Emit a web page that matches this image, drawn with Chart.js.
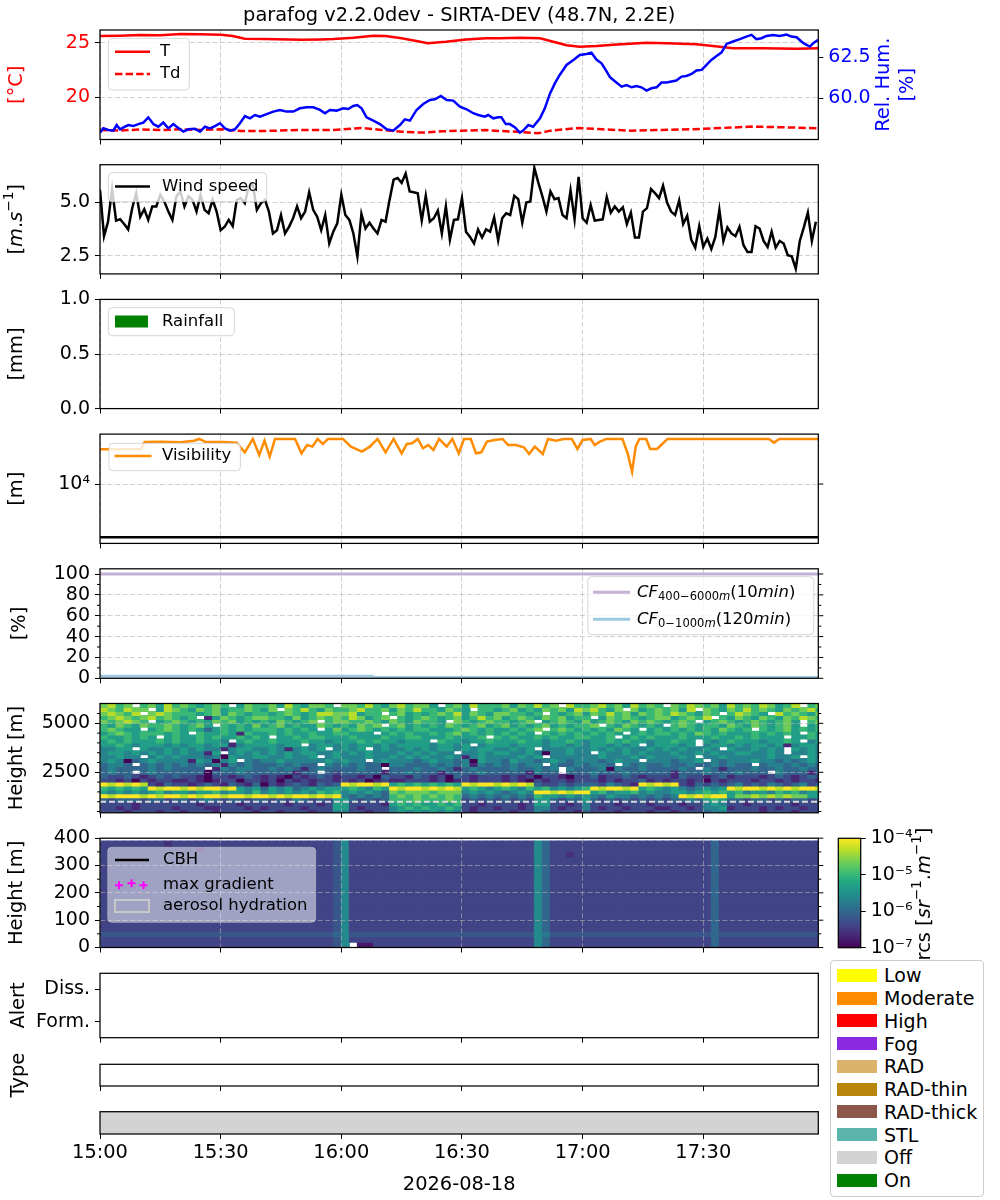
<!DOCTYPE html>
<html>
<head>
<meta charset="utf-8">
<title>parafog</title>
<script src="https://cdn.jsdelivr.net/npm/chart.js@4.4.1/dist/chart.umd.min.js"></script>
<style>
  html, body { margin: 0; padding: 0; background: #fff; }
  body { position: relative; width: 1000px; height: 1200px; overflow: hidden; font-family: "DejaVu Sans", sans-serif; }
  canvas { position: absolute; }
  #stateLegend {
    position: absolute; left: 830px; top: 960px; width: 154px; height: 237px;
    box-sizing: border-box; border: 1px solid #ccc; border-radius: 4px; background: #fff; z-index: 5;
  }
  #stateLegend .item { position: absolute; left: 0; height: 22px; display: flex; align-items: center; }
  #stateLegend .sw { display: inline-block; margin-left: 6px; width: 40px; height: 13px; }
  #stateLegend .lb { margin-left: 7px; font-size: 19px; line-height: 22px; color: #000; }
</style>
</head>
<body>
<div id="stateLegend"></div>
<script>
const FONT = '"DejaVu Sans", sans-serif';
const GRID = 'rgba(176,176,176,0.6)';
const GRID_DASH = [5, 2.5];
const AX_LEFT = 100;
const AX_RIGHT = 818.3;
const PAGE_W = 1000;

// ---------------- data ----------------
const figTitle = 'parafog v2.2.0dev - SIRTA-DEV (48.7N, 2.2E)';
const dateLabel = '2026-08-18';
const xEnd = 178.6; // minutes after 15:00
const timeTicks = [0, 30, 60, 90, 120, 150];
const timeTickLabels = ['15:00', '15:30', '16:00', '16:30', '17:00', '17:30'];

// temperature / dew point [°C]
const tempMinutes = [0, 5, 10, 15, 20, 25, 30, 33, 36, 41, 50, 55, 58, 63, 68, 71, 75, 80, 81.5, 86,
  91, 96, 99.4, 104.4, 109.4, 112.7, 116, 119.3, 123.5, 127.6, 135.9, 140.9, 148.3, 154.1, 157.4, 164.9, 173.2, 178.6];
const temperature = [25.61, 25.64, 25.70, 25.67, 25.79, 25.76, 25.73, 25.61, 25.37, 25.34, 25.27, 25.30, 25.34, 25.46, 25.64, 25.61, 25.40, 25.06, 24.94, 25.09,
  25.30, 25.40, 25.40, 25.46, 25.40, 25.09, 24.76, 24.63, 24.70, 24.82, 25.00, 24.94, 24.85, 24.63, 24.48, 24.48, 24.45, 24.48];
const dewMinutes = [0, 5, 10, 15, 20, 25, 30, 35, 41, 50, 58, 63, 65, 70, 75, 80, 85, 90, 96, 99.4,
  104.4, 109, 112, 119, 125, 132, 138, 147, 155, 162, 170, 178.6];
const dewPoint = [17.01, 16.95, 17.07, 17.01, 17.07, 17.01, 17.07, 16.92, 16.92, 17.01, 17.01, 17.13, 17.2, 17.01, 16.86, 16.77, 16.89, 16.95, 17.01, 16.92,
  16.83, 16.71, 16.95, 17.2, 17.07, 16.95, 17.01, 17.07, 17.2, 17.32, 17.26, 17.16];

// relative humidity [%]
const rhMinutes = [0.0, 0.83, 2.07, 3.31, 4.14, 4.97, 6.21, 7.04, 8.29, 9.53, 10.77, 12.01, 13.26, 14.5, 15.74, 16.99, 18.23, 19.06, 20.71, 21.96,
  23.61, 24.86, 26.1, 27.34, 28.59, 29.83, 31.07, 32.31, 33.56, 34.8, 36.04, 37.29, 38.53, 39.77, 41.43, 43.09, 44.74, 46.4, 48.06, 49.71,
  51.37, 53.03, 54.69, 55.93, 57.17, 58.83, 60.49, 61.73, 62.97, 63.97, 65.04, 66.28, 67.94, 69.6, 71.26, 72.91, 74.57, 75.81, 77.06, 78.71,
  80.37, 82.03, 83.27, 84.76, 86.18, 87.83, 89.49, 91.15, 92.8, 94.05,
  95.7, 96.5, 97.8, 99.0, 99.8, 100.9, 101.9, 103.2, 104.4, 105.2, 106.5, 107.7, 109.4, 110.6, 111.9, 113.1, 114.3, 116.0, 117.7, 119.3,
  121.0, 122.2, 123.5, 124.7, 126.0, 126.8, 128.4, 129.7, 130.9, 132.2, 133.4, 134.6, 135.9, 137.1, 138.4, 139.6, 140.9, 142.1, 143.3, 144.6,
  145.8, 147.1, 148.3, 149.6, 150.8, 152.0, 153.3, 154.5, 155.8, 157.4, 159.1, 160.7, 162.0, 163.2, 164.5, 165.7, 167.4, 169.0, 170.7, 171.9,
  173.2, 174.4, 175.2, 176.5, 177.3, 178.6];
const relHumidity = [57.91, 58.17, 58.07, 58.03, 58.37, 58.11, 58.27, 58.37, 58.31, 58.43, 58.52, 58.84, 58.43, 58.27, 58.52, 58.17, 58.43, 58.27, 57.97, 58.11,
  58.15, 57.97, 58.27, 58.17, 58.31, 58.48, 58.17, 58.03, 58.11, 58.48, 58.92, 58.78, 58.98, 58.88, 59.04, 59.19, 59.29, 59.19, 59.19, 59.39,
  59.45, 59.45, 59.29, 59.09, 59.29, 59.25, 59.39, 59.35, 59.53, 59.59, 59.39, 58.84, 58.64, 58.43, 58.11, 58.03, 58.37, 58.72, 58.64, 59.29,
  59.65, 59.9, 59.94, 60.14, 59.9, 59.86, 59.49, 59.33, 59.09, 58.98,
  58.88, 58.98, 58.78, 58.84, 58.84, 58.43, 58.43, 58.23, 57.91, 58.03, 58.37, 58.27, 58.78, 59.39, 60.3, 60.91, 61.42, 62.03, 62.34, 62.64,
  62.7, 62.78, 62.34, 62.13, 61.63, 61.28, 60.96, 60.71, 60.81, 60.67, 60.75, 60.67, 60.47, 60.61, 60.67, 60.96, 60.96, 61.02, 61.08, 61.32,
  61.36, 61.48, 61.69, 61.73, 62.03, 62.34, 62.58, 62.78, 63.31, 63.46, 63.6, 63.76, 63.86, 63.6, 63.66, 63.8, 63.86, 63.8, 63.88, 63.76,
  63.72, 63.46, 63.31, 63.15, 63.35, 63.56];

// wind speed [m/s], one value per minute from 15:00
const windStep = 1;
const windSpeed = [5.58, 3.41, 4.09, 5.61, 4.14, 4.20, 3.98, 3.73, 4.72, 5.42,
  4.32, 4.67, 4.17, 4.80, 4.80, 5.35, 5.03, 4.56, 4.17, 5.27,
  5.50, 4.80, 5.27, 5.11, 4.56, 5.35, 4.64, 4.48, 5.11, 4.56,
  3.69, 3.85, 4.17, 3.88, 5.11, 5.19, 4.95, 5.74, 5.82, 4.64,
  4.95, 5.11, 4.56, 3.54, 3.69, 4.40, 3.54, 3.85, 4.25, 4.80,
  4.25, 4.56, 5.46, 4.64, 4.32, 3.69, 4.40, 3.07, 3.62, 4.01,
  5.35, 4.40, 4.17, 3.54, 2.47, 4.45, 3.77, 4.04, 3.77, 3.54,
  4.17, 4.09, 5.11, 6.05, 6.13, 5.90, 6.34, 5.50, 5.46, 5.42,
  4.14, 5.30, 4.09, 4.25, 4.61, 3.54, 4.80, 3.25, 4.17, 4.20,
  5.19, 3.62, 3.38, 3.07, 3.73, 3.35, 3.73, 3.62, 4.29, 3.22,
  4.25, 4.48, 4.40, 5.30, 5.14, 4.04, 4.98, 5.03, 6.60, 5.90,
  5.27, 4.56, 5.50, 5.14, 5.19, 4.40, 4.25, 5.55, 4.20, 6.18,
  4.25, 4.04, 4.87, 4.14, 4.17, 4.20, 5.24, 4.51, 4.80, 4.56,
  4.76, 3.98, 4.51, 3.35, 3.35, 4.56, 4.72, 5.61, 5.42, 5.19,
  5.77, 4.98, 4.56, 4.40, 5.08, 3.98, 4.36, 3.25, 2.88, 3.88,
  2.91, 3.30, 2.81, 3.38, 4.64, 3.19, 3.82, 3.54, 3.41, 3.85,
  2.99, 2.67, 2.67, 3.88, 3.77, 3.19, 2.91, 3.62, 2.88, 3.19,
  3.07, 2.52, 2.47, 1.89, 3.19, 3.82, 4.51, 3.19, 4.09];

// rainfall [mm] - none in this window
const rainfall = [];

// visibility [m]
const visMinutes = [0, 10.2, 11.1, 14.8, 20.1, 23.4, 24.7, 26.1, 30.7, 34.0, 36.0, 38.0, 39.6, 40.9, 42.2, 43.5, 48.5, 50.1, 51.5, 52.8,
  54.1, 55.4, 56.7, 60.4, 62.4, 65.1, 67.1, 69.0, 71.0, 73.0, 75.0, 76.3, 77.6, 79.0, 80.3, 81.6, 82.9, 84.3, 86.2, 87.6,
  89.2, 90.5, 92.2, 93.5, 94.8, 96.2, 98.1, 100.1, 101.5, 103.4, 105.4, 106.7, 108.1, 110.1, 111.4, 113.4, 115.3, 117.3, 118.7, 120.0,
  122.0, 123.0, 124.3, 125.9, 129.9, 131.2, 132.3, 133.2, 134.1, 135.8, 136.8, 138.5, 139.8, 141.1, 166.3, 167.6, 168.9, 178.6];
const visibility = [44700, 44700, 61400, 62300, 60500, 65000, 70000, 62300, 61400, 59700, 39300, 70000, 35000, 65000, 32600, 70000, 70000, 37600, 53900, 50200,
  70000, 56300, 70000, 70000, 50200, 40400, 50200, 70000, 39300, 70000, 37600, 56300, 57900, 70000, 46700, 53900, 43500, 70000, 50200, 70000,
  37600, 70000, 70000, 37600, 39300, 62300, 66900, 70000, 53900, 53900, 48800, 36600, 50200, 36600, 70000, 65000, 70000, 70000, 45400, 66900,
  70000, 53900, 62300, 70000, 70000, 37600, 17000, 50200, 70000, 70000, 45400, 45400, 56300, 70000, 70000, 59700, 70000, 70000];
const visThreshold = 1000;

// cloud fraction [%]
const cfHighMinutes = [0, 178.6];
const cfHigh = [100, 100];
const cfLowMinutes = [0, 67.7, 67.7, 178.6];
const cfLow = [2.0, 2.0, 0.8, 0.8];

// lidar rcs, far range: one string per 200 m gate (top gate first), one char per 2-min column;
// digit = level on 1e-7..1e-4 in thirds of a decade, '.' = no data
const lidarFarBase = 400, lidarFarGate = 200, lidarFarCol = 2;
const lidarFar = [
  '7867.67586 765676.576 675865776. 7768657867 75.6758666 7576867.86 6786758676 .768767586 7687568.67',
  '876877.587 6576756676 57.7686576 6786675768 665765.665 6756576758 78657.7567 6758.76576 8676576786',
  '78768.7876 6656757656 6567656887 78566.6756 5676857657 76656.6567 5768675767 6876576.68 765.867657',
  '6787678676 56.1576567 7665756767 687567.656 7656756867 5676576756 6.57676567 756768.657 6576576876',
  '767876.567 6565767565 6576567.67 7667657657 665.765676 6567.56765 7567657676 5676.56765 6765675.67',
  '6576576676 5675.65657 5675655765 65767.6756 5657656756 7565675656 67.6576565 .676566576 5765675.56',
  '67655.5676 5653565656 6656565.57 5676565656 6555676565 56567.6765 6565765.56 5656565765 6.65675656',
  '5676566656 5.65565165 5656556556 6555.56565 5656756565 6565.65656 56565.5656 6565765655 5656565.65',
  '6556565.56 5565655656 5.55656655 5655565566 55565556.6 5655656556 6556.56565 5565556556 56555.5565',
  '5656555656 556554.565 5655565545 5565655455 5.65545565 5565545565 4556565545 5655.54565 5545565.45',
  '5565455545 4554551455 55455.4554 5455454555 545545.455 5455545545 4554545.45 5545.45545 4554514554',
  '4455.54454 5454414554 45414545.4 545.454454 5455454554 4545.44454 4545454454 5454454.54 45454.5454',
  '4554545454 54415.4545 4545455445 4545444545 4544.44545 5445404454 4.54454544 4544545445 54454.4454',
  '44544.4545 4443405445 5445445.45 4445445454 5445414544 44545.4444 4454445454 4454.44544 4445445.54',
  '4540345444 4154045.43 4454444454 544.454443 4544340544 3544345434 4434544.44 43445.4344 4544343454',
  '3443.34343 4343414343 3343433.43 4343304433 3434341434 34344.4334 3443.43433 4334334343 3.34434343',
  '3433334343 333.143443 3434313433 33433.3334 3343134333 3433434.43 3340433433 3343.43133 3433433433',
  '3433.34333 3330333433 3333133.32 3333313343 3313333433 3331433.33 3433343333 3133343334 333.433313',
  '3223212323 2210221232 1210212321 2212032213 2120321222 1212022102 2312232122 2132212312 2212321232',
  '2212021221 1210122022 1202121221 2120121122 2120121222 1210212212 2212122312 1221202122 2122121221',
  '9898982132 2123213213 0212321323 9899895656 5656598998 9898322323 3324321989 8921323234 2324323423',
  '6565659899 8989989545 3545345455 5654659899 8989856545 6546564545 6989989565 4543454598 9989898998',
  '5454545645 5455645546 4545454656 4545437677 7677745454 3454998989 9564556454 4554565656 4554656455',
  '9899989899 8989989989 9898998989 4343436767 6767634343 4343655454 5435443434 3498989957 7878787755',
  '3233323323 3234323323 3232432325 5323236667 6667623232 3232553233 5323232323 2334356533 2332323323',
  '2222122222 2212222122 2221222125 5222215656 5565622122 2212552212 4222122212 2212245422 1222221222',
  '2212122221 2221122212 1222212225 5212224565 6556521221 2212442122 4212212221 1221244512 2212122122',
  '2221222122 1222122221 2212221224 4221224545 4545421222 2122432221 3222122212 2122234422 2212221222'
];
const lidarRefHeight = 1000;

// lidar rcs, near range: one string per 19.5 m gate (top first), one char per 2-min column;
// hex digit = level on 1e-7..1e-4 in steps of 0.2 decade, '.' = no data
const lidarNearBase = 0, lidarNearGate = 19.5, lidarNearCol = 2;
const lidarNear = [
  '3333333323 3333333333 3333333334 7333333333 3333333333 3333753333 3333333333 3333335333 3333333333',
  '3333333333 3323333333 3333333334 7333333333 3333333333 3333753333 3333333333 3333335333 3333333333',
  '3333333333 3333333333 3333333334 7333333333 3333333333 3333753323 3333333333 3333335333 3333333333',
  '3333333333 3333333333 3333333334 7333333333 3333333333 3333753333 3333333333 3333335333 3333333333',
  '3333333333 3333333333 3333333334 7333333333 3333333333 3333753333 3333333333 3333335333 3333333333',
  '3333333333 3333333333 3333333334 7333333333 3333333333 3333753333 3333333333 3333335333 3333333333',
  '3333333333 3333333333 3333333334 7333333333 3333333333 3333753333 3333333333 3333335333 3333333333',
  '3333333333 3333333333 3333333334 7333333333 3333333333 3333753333 3333333333 3333335333 3333333333',
  '3333333333 3333333333 3333333334 7333333333 3333333333 3333753333 3333333333 3333335333 3333333333',
  '3333333333 3333333333 3333333334 7333333333 3333333333 3333753333 3333333333 3333335333 3333333333',
  '3333333333 3333333333 3333333334 7333333333 3333333333 3333753333 3333333333 3333335333 3333333333',
  '3333333333 3333333333 3333333334 7333333333 3333333333 3333753333 3333333333 3333335333 3333333333',
  '3333333333 3333333333 3333333334 7333333333 3333333333 3333753333 3333333333 3333335333 3333333333',
  '3333333333 3333333333 3333333334 7333333333 3333333333 3333753333 3333333333 3333335333 3333333333',
  '3333333333 3333333333 3333333334 7333333333 3333333333 3333753333 3333333333 3333335333 3333333333',
  '3333333333 3333333333 3333333334 7333333333 3333333333 3333753333 3333333333 3333335333 3333333333',
  '3333333333 3333333333 3333333334 7333333333 3333333333 3333753333 3333333333 3333335333 3333333333',
  '4444444444 4444444444 4444444445 7444444444 4444444444 4444764444 4444444444 4444445444 4444444444',
  '3333333333 3333333333 3333333334 7333333333 3333333333 3333753333 3333333333 3333335333 3333333333',
  '3333333333 3333333333 3333333334 7.11333333 3333333333 3333753333 3333333333 3333335333 3333333333'
];
const cbhHeights = [];
const maxGradient = [];
const hydration = [];
const cbRange = [1e-7, 1e-4];

const alertLevels = [];
const alertLabels = ['Form.', 'Diss.'];
const offMinutes = [0, 178.6];
const offLevel = [1, 1];

const stateNames = ['Low', 'Moderate', 'High', 'Fog', 'RAD', 'RAD-thin', 'RAD-thick', 'STL', 'Off', 'On'];
const stateColors = ['#ffff00', '#ff8c00', '#ff0000', '#8a2be2', '#dbb36b', '#b8860b', '#8c564b', '#5ab4ac', '#d3d3d3', '#008000'];

// axis limits and ticks
const tempRange = [16.14, 26.16], tempTicks = [20, 25];
const rhRange = [57.49, 64.16], rhTicks = [60, 62.5];
const windRange = [1.65, 6.75], windTicks = [2.5, 5];
const rainRange = [0, 1], rainTicks = [0, 0.5, 1];
const visRange = [770, 86300], visTicks = [1e4];
const cfRange = [0, 105], cfTicks = [0, 20, 40, 60, 80, 100], cfMinor = [10, 30, 50, 70, 90];
const farRange = [434, 6010], farTicks = [2500, 5000], farMinor = [500, 1000, 1500, 2000, 3000, 3500, 4000, 4500, 5500];
const nearRange = [0, 400], nearTicks = [0, 100, 200, 300, 400], nearMinor = [50, 150, 250, 350];
const cbTicks = [1e-7, 1e-6, 1e-5, 1e-4];

// ---------------- helpers ----------------
Chart.defaults.font.family = FONT;
Chart.defaults.color = '#000';

const VIRIDIS = ['#440154', '#482475', '#414487', '#355f8d', '#2a788e', '#21918c', '#22a884', '#44bf70', '#7ad151', '#bddf26', '#fde725'];
const hexRgb = h => [1, 3, 5].map(i => parseInt(h.slice(i, i + 2), 16));
function viridis(f) {
  f = Math.min(1, Math.max(0, f));
  const p = f * 10, i = Math.min(9, Math.floor(p)), t = p - i;
  const a = hexRgb(VIRIDIS[i]), b = hexRgb(VIRIDIS[i + 1]);
  return 'rgb(' + a.map((v, k) => Math.round(v + (b[k] - v) * t)).join(',') + ')';
}

const SUP = { '-': '⁻', '0': '⁰', '1': '¹', '2': '²', '3': '³', '4': '⁴', '5': '⁵', '6': '⁶', '7': '⁷', '8': '⁸', '9': '⁹' };
const pow10Label = v => '10' + String(Math.round(Math.log10(v))).replace(/./g, c => SUP[c]);

const pts = (xs, ys) => xs.map((x, i) => ({ x, y: ys[i] }));

function line(data, label, color, extra) {
  return Object.assign({ type: 'line', label, data, borderColor: color, backgroundColor: color,
    borderWidth: 2.5, pointRadius: 0, fill: false, tension: 0 }, extra || {});
}

function heatSets(rows, base, gate, colW, levels) {
  return rows.map((row, i) => {
    const lo = base + (rows.length - 1 - i) * gate;
    const data = [];
    [...row.replace(/ /g, '')].forEach((ch, c) => {
      if (ch === '.') return;
      data.push({ x: c * colW + colW / 2, y: [lo, lo + gate], v: parseInt(ch, 16) / levels });
    });
    return {
      type: 'bar', label: 'rcs', data, order: 5, grouped: false,
      barPercentage: 1, categoryPercentage: 1, borderWidth: 0, inflateAmount: 0.5,
      backgroundColor: ctx => viridis(ctx.raw ? ctx.raw.v : 0)
    };
  });
}

function addCanvas(left, top, w, h) {
  const c = document.createElement('canvas');
  c.width = w; c.height = h;
  c.style.left = left + 'px'; c.style.top = top + 'px';
  c.style.width = w + 'px'; c.style.height = h + 'px';
  document.body.appendChild(c);
  return c;
}

function segFont(s, size) {
  const fs = (s.sub || s.sup) ? size * 0.7 : size;
  return (s.it ? 'italic ' : '') + fs + 'px ' + FONT;
}

function drawRich(ctx, segs, x, y, size, color, rot, align) {
  if (typeof segs === 'string') segs = [{ t: segs }];
  let w = 0;
  const widths = segs.map(s => { ctx.font = segFont(s, size); const m = ctx.measureText(s.t).width; w += m; return m; });
  ctx.save();
  ctx.translate(x, y);
  if (rot) ctx.rotate(rot);
  ctx.fillStyle = color || '#000';
  ctx.textBaseline = 'middle';
  ctx.textAlign = 'left';
  let cx = align === 'left' ? 0 : -w / 2;
  segs.forEach((s, i) => {
    ctx.font = segFont(s, size);
    const dy = s.sup ? -size * 0.38 : (s.sub ? size * 0.28 : 0);
    ctx.fillText(s.t, cx, dy);
    cx += widths[i];
  });
  ctx.restore();
}

function drawLegend(ctx, chart, L, ox, oy) {
  const x = L.x - ox, y = L.y - oy;
  ctx.save();
  ctx.beginPath();
  if (ctx.roundRect) ctx.roundRect(x, y, L.w, L.h, 4); else ctx.rect(x, y, L.w, L.h);
  ctx.fillStyle = 'rgba(255,255,255,' + L.alpha + ')';
  ctx.fill();
  ctx.strokeStyle = 'rgba(204,204,204,' + L.alpha + ')';
  ctx.lineWidth = 1;
  ctx.stroke();
  L.items.forEach(it => {
    const ds = chart.data.datasets[it.ds];
    const cy = it.y - oy;
    const x0 = L.hx - ox, x1 = x0 + L.hw;
    const kind = it.kind || 'line';
    if (kind === 'line') {
      ctx.strokeStyle = ds.borderColor;
      ctx.lineWidth = ds.borderWidth;
      ctx.setLineDash(ds.borderDash || []);
      ctx.beginPath(); ctx.moveTo(x0, cy); ctx.lineTo(x1, cy); ctx.stroke();
      ctx.setLineDash([]);
    } else if (kind === 'patch') {
      ctx.fillStyle = ds.backgroundColor;
      ctx.fillRect(x0, cy - 6, x1 - x0, 12);
    } else if (kind === 'plus') {
      ctx.strokeStyle = ds.borderColor;
      ctx.lineWidth = 2;
      [[x0 + 4, 1], [x0 + 16.5, -1], [x0 + 28.5, 1]].forEach(([px, d]) => {
        ctx.beginPath();
        ctx.moveTo(px - 4, cy + d); ctx.lineTo(px + 4, cy + d);
        ctx.moveTo(px, cy + d - 4); ctx.lineTo(px, cy + d + 4);
        ctx.stroke();
      });
    } else if (kind === 'outline') {
      ctx.strokeStyle = ds.borderColor;
      ctx.lineWidth = 2;
      ctx.strokeRect(x0, cy - 6, x1 - x0, 12);
    }
    drawRich(ctx, it.segs || ds.label, L.tx - ox, cy, 16.5, '#000', 0, 'left');
  });
  ctx.restore();
}

function decor(spec) {
  return {
    id: 'decor',
    afterDraw(chart) {
      const ctx = chart.ctx, a = chart.chartArea;
      const ox = spec.left || 0, oy = spec.top || 0;
      ctx.save();
      ctx.strokeStyle = '#000';
      ctx.lineWidth = 1;
      (spec.ticks || []).forEach(t => {
        const sc = chart.scales[t.scale];
        t.values.forEach(v => {
          const py = sc.getPixelForValue(v);
          ctx.beginPath();
          if (t.left) { ctx.moveTo(a.left - t.len, py); ctx.lineTo(a.left, py); }
          if (t.right) { ctx.moveTo(a.right, py); ctx.lineTo(a.right + t.len, py); }
          ctx.stroke();
        });
      });
      ctx.lineWidth = 1.25;
      ctx.strokeRect(a.left, a.top, a.right - a.left, a.bottom - a.top);
      if (spec.legend) drawLegend(ctx, chart, spec.legend, ox, oy);
      (spec.texts || []).forEach(t => drawRich(ctx, t.segs, t.x - ox, t.y - oy, t.size || 19.4, t.color, t.rot, t.align));
      ctx.restore();
    }
  };
}

function xAxis(h, p) {
  return {
    type: 'linear', min: 0, max: xEnd, offset: false,
    afterFit: s => { s.height = h; },
    afterBuildTicks: s => { s.ticks = timeTicks.map(v => ({ value: v })); },
    ticks: { display: !!p.xLabels, autoSkip: false, maxRotation: 0, padding: 2,
      font: { family: FONT, size: 19.4 }, color: '#000',
      callback: v => timeTickLabels[timeTicks.indexOf(v)] },
    grid: { offset: false, drawOnChartArea: p.grid !== false, color: GRID, lineWidth: 1,
      tickLength: 5, tickColor: '#000', tickWidth: 1, tickBorderDash: [], z: p.gridTop ? 1 : -1 },
    border: { display: false, dash: GRID_DASH }
  };
}

function yAxis(o) {
  const hasTicks = o.ticks !== undefined;
  return {
    type: o.type || 'linear',
    position: o.position || 'left',
    min: o.min, max: o.max,
    afterFit: s => { s.width = o.width || AX_LEFT; },
    afterBuildTicks: s => { s.ticks = (o.ticks || []).map(v => ({ value: v })); },
    ticks: { display: hasTicks, autoSkip: false, font: { family: FONT, size: 19 }, color: o.color || '#000',
      padding: 5, callback: o.fmt || (v => String(v)) },
    grid: { display: hasTicks, drawOnChartArea: o.grid !== false, color: GRID, lineWidth: 1,
      tickLength: 5, tickColor: '#000', tickWidth: 1, tickBorderDash: [], z: o.gridTop ? 1 : -1 },
    border: { display: false, dash: GRID_DASH }
  };
}

function makePanel(p) {
  const cTop = p.canvasTop !== undefined ? p.canvasTop : Math.floor(p.axTop) - 24;
  const cBot = p.canvasBottom !== undefined ? p.canvasBottom : Math.ceil(p.axBot) + 22;
  const canvas = addCanvas(0, cTop, PAGE_W, cBot - cTop);
  const scales = { x: xAxis(cBot - p.axBot, p), y: p.y };
  if (p.y2) scales.y2 = p.y2;
  return new Chart(canvas, {
    type: 'line',
    data: { datasets: p.datasets },
    options: {
      responsive: false, animation: false, events: [],
      layout: { padding: { left: 0, top: p.axTop - cTop, right: p.y2 ? 0 : PAGE_W - AX_RIGHT, bottom: 0 } },
      plugins: { legend: { display: false }, tooltip: { enabled: false } },
      scales
    },
    plugins: [decor(Object.assign({ top: cTop, left: 0 }, p.decor || {}))]
  });
}

const ROT = -Math.PI / 2;
const ylab = (segs, axTop, axBot, color, x) => ({ segs, x: x || 17, y: (axTop + axBot) / 2, rot: ROT, color });

// ---------------- panels ----------------
// 1: temperature, dew point, relative humidity
makePanel({
  axTop: 30, axBot: 139.5, canvasTop: 0,
  datasets: [
    line(pts(rhMinutes, relHumidity), 'Rel. Hum.', '#0000ff', { yAxisID: 'y2', order: 0 }),
    line(pts(tempMinutes, temperature), 'T', '#ff0000', { order: 1 }),
    line(pts(dewMinutes, dewPoint), 'Td', '#ff0000', { order: 2, borderDash: [7.4, 3.2] })
  ],
  y: yAxis({ min: tempRange[0], max: tempRange[1], ticks: tempTicks, color: '#ff0000' }),
  y2: yAxis({ min: rhRange[0], max: rhRange[1], ticks: rhTicks, color: '#0000ff', position: 'right',
    width: PAGE_W - AX_RIGHT, grid: false, fmt: v => v.toFixed(1) }),
  decor: {
    texts: [
      { segs: figTitle, x: 459.15, y: 16 },
      ylab('[°C]', 30, 139.5, '#ff0000'),
      ylab('Rel. Hum.', 30, 139.5, '#0000ff', 884),
      ylab('[%]', 30, 139.5, '#0000ff', 908)
    ],
    legend: { x: 108.3, y: 38.3, w: 81, h: 51.7, alpha: 0.8, hx: 115, hw: 35, tx: 160,
      items: [{ ds: 1, y: 51.7 }, { ds: 2, y: 74 }] }
  }
});

// 2: wind speed
makePanel({
  axTop: 164.7, axBot: 273.9,
  datasets: [line(windSpeed.map((v, i) => ({ x: i * windStep, y: v })), 'Wind speed', '#000000')],
  y: yAxis({ min: windRange[0], max: windRange[1], ticks: windTicks, fmt: v => v.toFixed(1) }),
  decor: {
    texts: [ylab([{ t: '[' }, { t: 'm', it: 1 }, { t: '.' }, { t: 's', it: 1 }, { t: '−1', sup: 1 }, { t: ']' }], 164.7, 273.9)],
    legend: { x: 108.3, y: 172.7, w: 158.4, h: 29, alpha: 0.8, hx: 115, hw: 35, tx: 162,
      items: [{ ds: 0, y: 186.5 }] }
  }
});

// 3: rainfall
makePanel({
  axTop: 299.4, axBot: 408.6,
  datasets: [{ type: 'bar', label: 'Rainfall', data: pts(rainfall.map((_, i) => i), rainfall), backgroundColor: '#008000' }],
  y: yAxis({ min: rainRange[0], max: rainRange[1], ticks: rainTicks, fmt: v => v.toFixed(1) }),
  decor: {
    texts: [ylab('[mm]', 299.4, 408.6)],
    legend: { x: 108.3, y: 307.7, w: 126, h: 28, alpha: 0.8, hx: 115, hw: 33, tx: 162,
      items: [{ ds: 0, y: 321.5, kind: 'patch' }] }
  }
});

// 4: visibility
makePanel({
  axTop: 434.1, axBot: 543.4,
  datasets: [
    line(pts(visMinutes, visibility), 'Visibility', '#ff8c00'),
    line(pts([0, xEnd], [visThreshold, visThreshold]), 'fog threshold', '#000000')
  ],
  y: yAxis({ type: 'logarithmic', min: visRange[0], max: visRange[1], ticks: visTicks, fmt: pow10Label }),
  decor: {
    ticks: [{ scale: 'y', values: visTicks, len: 5, right: true }],
    texts: [ylab('[m]', 434.1, 543.4)],
    legend: { x: 109, y: 443.3, w: 131.4, h: 27.4, alpha: 0.8, hx: 114.5, hw: 37, tx: 162,
      items: [{ ds: 0, y: 456 }] }
  }
});

// 5: cloud fraction
makePanel({
  axTop: 568.8, axBot: 678.3,
  datasets: [
    line(pts(cfHighMinutes, cfHigh), 'CF 400-6000m (10min)', '#c5b0d5', { borderWidth: 3 }),
    line(pts(cfLowMinutes, cfLow), 'CF 0-1000m (120min)', '#9ecae1', { borderWidth: 3 })
  ],
  y: yAxis({ min: cfRange[0], max: cfRange[1], ticks: cfTicks }),
  decor: {
    ticks: [{ scale: 'y', values: cfTicks, len: 5, right: true }, { scale: 'y', values: cfMinor, len: 3, left: true, right: true }],
    texts: [ylab('[%]', 568.8, 678.3, '#000', 20)],
    legend: { x: 587.8, y: 576.7, w: 226, h: 58, alpha: 0.8, hx: 593, hw: 37, tx: 637,
      items: [
        { ds: 0, y: 592.3, segs: [{ t: 'CF', it: 1 }, { t: '400−6000', sub: 1 }, { t: 'm', it: 1, sub: 1 }, { t: '(10' }, { t: 'min', it: 1 }, { t: ')' }] },
        { ds: 1, y: 619.3, segs: [{ t: 'CF', it: 1 }, { t: '0−1000', sub: 1 }, { t: 'm', it: 1, sub: 1 }, { t: '(120' }, { t: 'min', it: 1 }, { t: ')' }] }
      ] }
  }
});

// 6: lidar far range
makePanel({
  axTop: 703.5, axBot: 812.8, gridTop: true,
  datasets: [line(pts([0, xEnd], [lidarRefHeight, lidarRefHeight]), 'ref', '#d9d9d9', { order: 0, borderWidth: 2, borderDash: [6, 3] })]
    .concat(heatSets(lidarFar, lidarFarBase, lidarFarGate, lidarFarCol, 9)),
  y: yAxis({ min: farRange[0], max: farRange[1], ticks: farTicks, gridTop: true }),
  decor: {
    ticks: [{ scale: 'y', values: farTicks, len: 5, right: true }, { scale: 'y', values: farMinor, len: 3, left: true, right: true }],
    texts: [ylab('Height [m]', 703.5, 812.8)]
  }
});

// 7: lidar near range
makePanel({
  axTop: 838.2, axBot: 947.5, gridTop: true,
  datasets: [
    line(pts(cbhHeights.map((_, i) => i), cbhHeights), 'CBH', '#000000', { order: 0 }),
    line(pts(maxGradient.map((_, i) => i), maxGradient), 'max gradient', '#ff00ff', { order: 0, showLine: false }),
    line(pts(hydration.map((_, i) => i), hydration), 'aerosol hydration', '#c8c8c8', { order: 0 })
  ].concat(heatSets(lidarNear, lidarNearBase, lidarNearGate, lidarNearCol, 15)),
  y: yAxis({ min: nearRange[0], max: nearRange[1], ticks: nearTicks, gridTop: true }),
  decor: {
    ticks: [{ scale: 'y', values: nearTicks, len: 5, right: true }, { scale: 'y', values: nearMinor, len: 3, left: true, right: true }],
    texts: [ylab('Height [m]', 838.2, 947.5)],
    legend: { x: 107.7, y: 847.3, w: 208, h: 75, alpha: 0.5, hx: 115, hw: 34, tx: 163,
      items: [{ ds: 0, y: 860 }, { ds: 1, y: 884.3, kind: 'plus' }, { ds: 2, y: 906, kind: 'outline' }] }
  }
});

// 8: alert
makePanel({
  axTop: 973.3, axBot: 1037.7, grid: false,
  datasets: [line(alertLevels, 'alert', '#000000')],
  y: yAxis({ min: -0.5, max: 1.5, ticks: [0, 1], grid: false, fmt: v => alertLabels[v] }),
  decor: { texts: [ylab('Alert', 973.3, 1037.7, '#000', 19)] }
});

// 9: fog type
makePanel({
  axTop: 1064.3, axBot: 1086, grid: false,
  datasets: [],
  y: yAxis({ min: 0, max: 1 }),
  decor: { texts: [ylab('Type', 1064.3, 1086, '#000', 19)] }
});

// 10: on/off status
makePanel({
  axTop: 1111.7, axBot: 1134, canvasBottom: 1200, grid: false, xLabels: true,
  datasets: [line(pts(offMinutes, offLevel), 'Off', '#d3d3d3', { fill: 'origin', borderWidth: 0, backgroundColor: '#d3d3d3' })],
  y: yAxis({ min: 0, max: 1 }),
  decor: { texts: [{ segs: dateLabel, x: 459.15, y: 1185 }] }
});

// colorbar
(function () {
  const left = 820, top = 820, w = 180, h = 150;
  const aL = 838.3 - left, aR = 860.7 - left, aT = 838.3 - top, aB = 947.7 - top;
  const canvas = addCanvas(left, top, w, h);
  new Chart(canvas, {
    type: 'bar',
    data: { labels: ['rcs'], datasets: [{
      data: [[cbRange[0], cbRange[1]]], barPercentage: 1, categoryPercentage: 1, borderWidth: 0,
      backgroundColor: ctx => {
        const a = ctx.chart.chartArea;
        if (!a) return '#000';
        const g = ctx.chart.ctx.createLinearGradient(0, a.bottom, 0, a.top);
        VIRIDIS.forEach((c, i) => g.addColorStop(i / 10, c));
        return g;
      }
    }] },
    options: {
      responsive: false, animation: false, events: [],
      layout: { padding: { left: aL, top: aT, bottom: h - aB, right: 0 } },
      plugins: { legend: { display: false }, tooltip: { enabled: false } },
      scales: {
        x: { display: false },
        y: {
          type: 'logarithmic', position: 'right', min: cbRange[0], max: cbRange[1],
          afterFit: s => { s.width = w - aR; },
          afterBuildTicks: s => { s.ticks = cbTicks.map(v => ({ value: v })); },
          ticks: { font: { family: FONT, size: 19 }, color: '#000', padding: 5, callback: pow10Label },
          grid: { drawOnChartArea: false, tickLength: 5, tickColor: '#000', tickWidth: 1 },
          border: { display: false }
        }
      }
    },
    plugins: [decor({ left, top, texts: [{
      segs: [{ t: 'rcs [' }, { t: 'sr', it: 1 }, { t: '−1', sup: 1 }, { t: '.' }, { t: 'm', it: 1 }, { t: '−1', sup: 1 }, { t: ']' }],
      x: 925, y: 894, rot: ROT }] })]
  });
})();

// state legend
const box = document.getElementById('stateLegend');
stateNames.forEach((name, i) => {
  const row = document.createElement('div');
  row.className = 'item';
  row.style.top = (14.3 + i * 22.75 - 11) + 'px';
  row.innerHTML = '<span class="sw" style="background:' + stateColors[i] + '"></span><span class="lb">' + name + '</span>';
  box.appendChild(row);
});
</script>
</body>
</html>
